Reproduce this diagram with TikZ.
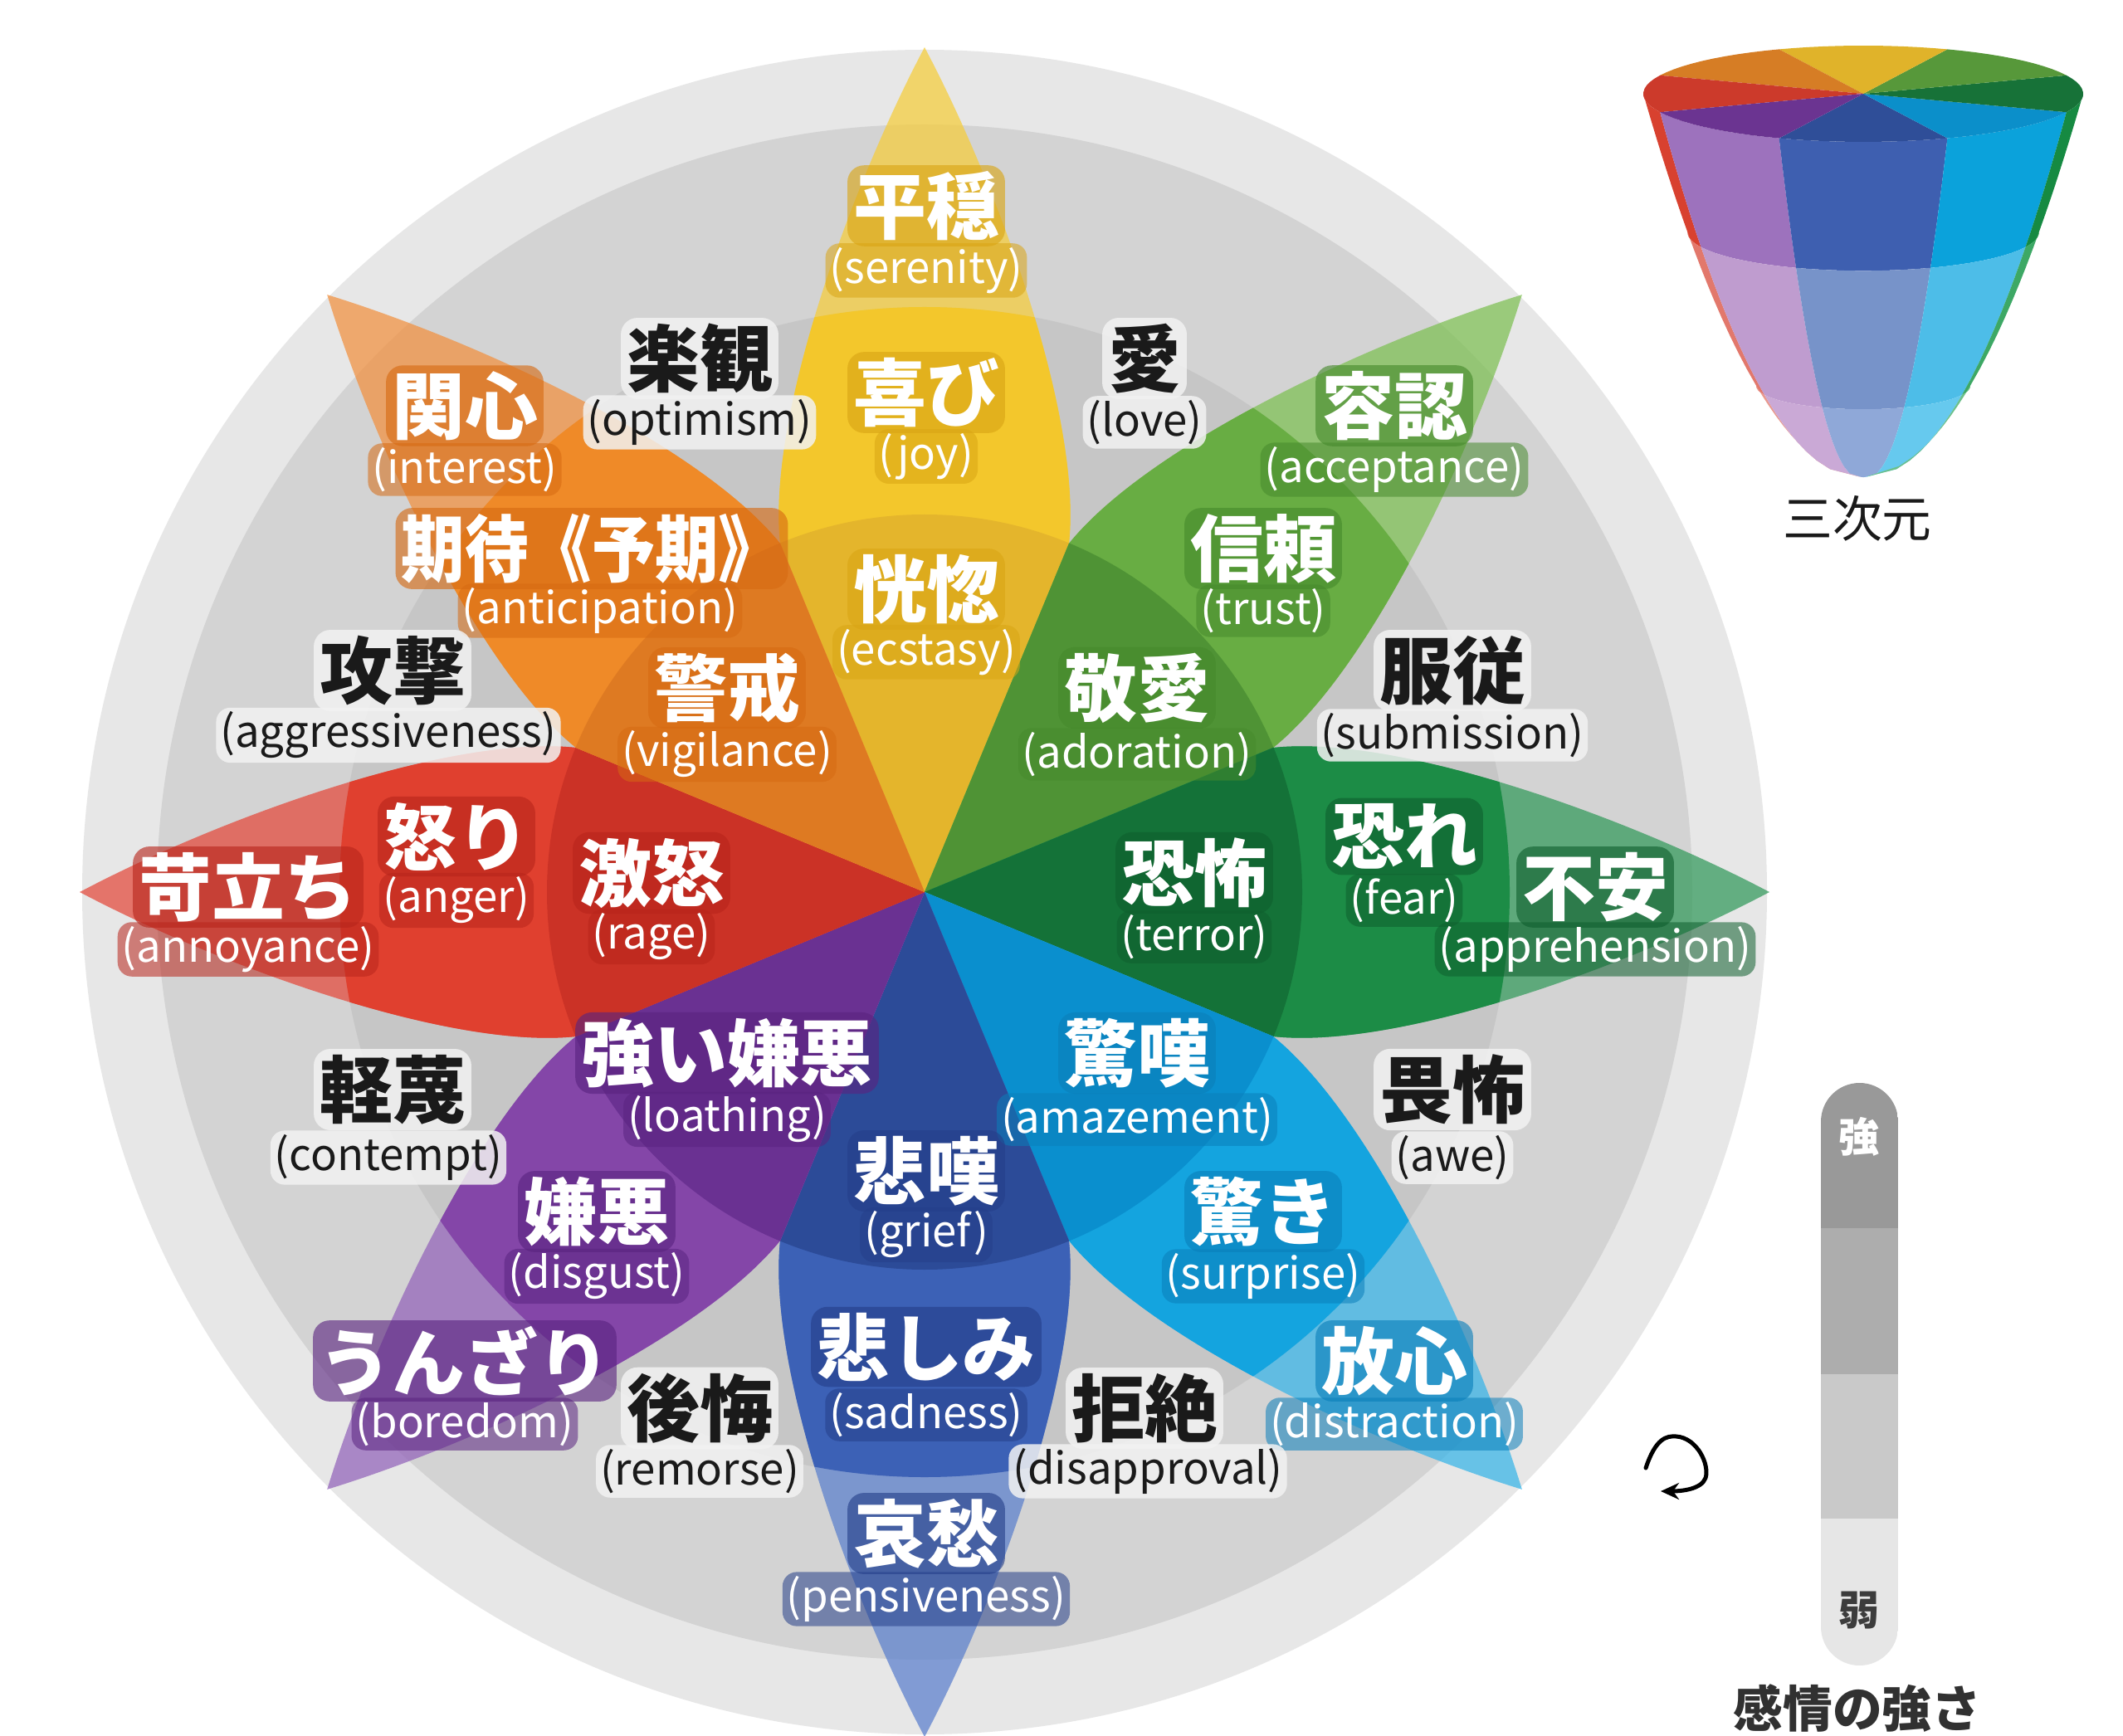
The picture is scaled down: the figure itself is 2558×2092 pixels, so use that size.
\documentclass[tikz,border=0pt]{standalone}
\usepackage{fontspec}
\setmainfont{Noto Sans CJK JP}
\usetikzlibrary{arrows.meta}
\definecolor{ringA}{HTML}{E7E7E7}
\definecolor{ringB}{HTML}{D3D3D3}
\definecolor{ringC}{HTML}{C6C6C6}
\definecolor{yI}{HTML}{E4B52C}\definecolor{yM}{HTML}{F3C72C}\definecolor{yO}{HTML}{F6CD3A}
\definecolor{oI}{HTML}{DE7A22}\definecolor{oM}{HTML}{EF8A28}\definecolor{oO}{HTML}{F2903E}
\definecolor{rI}{HTML}{CB3226}\definecolor{rM}{HTML}{E0402F}\definecolor{rO}{HTML}{E4483A}
\definecolor{pI}{HTML}{6A3192}\definecolor{pM}{HTML}{8446A8}\definecolor{pO}{HTML}{9262BA}
\definecolor{bI}{HTML}{2C4B98}\definecolor{bM}{HTML}{3C61B6}\definecolor{bO}{HTML}{5A7FCD}
\definecolor{cI}{HTML}{0A8FCE}\definecolor{cM}{HTML}{14A4DF}\definecolor{cO}{HTML}{36B4E8}
\definecolor{gI}{HTML}{147238}\definecolor{gM}{HTML}{1C8C46}\definecolor{gO}{HTML}{31995A}
\definecolor{lI}{HTML}{4F9335}\definecolor{lM}{HTML}{68AD43}\definecolor{lO}{HTML}{7DC052}
\definecolor{hY}{HTML}{D9A514}\definecolor{hO}{HTML}{D66A12}\definecolor{hR}{HTML}{B8251B}
\definecolor{hP}{HTML}{5A2480}\definecolor{hB}{HTML}{253F8A}\definecolor{hC}{HTML}{0A7FBA}
\definecolor{hG}{HTML}{0F5F2E}\definecolor{hL}{HTML}{468A2C}
\definecolor{haloW}{HTML}{F2F2F2}
\definecolor{txtdark}{HTML}{1A1A1A}
% cone colours
\definecolor{kYe}{HTML}{E0B32A}\definecolor{kOr}{HTML}{D67D25}\definecolor{kRe}{HTML}{CC3A2B}
\definecolor{kPu}{HTML}{6B3491}\definecolor{kBl}{HTML}{2F4E98}\definecolor{kCy}{HTML}{0B8FCA}
\definecolor{kDg}{HTML}{177238}\definecolor{kLg}{HTML}{57983A}
\definecolor{t1R}{HTML}{D8412F}\definecolor{t1P}{HTML}{9D72BD}\definecolor{t1B}{HTML}{3E5FB0}\definecolor{t1C}{HTML}{0BA2DB}\definecolor{t1G}{HTML}{168A42}
\definecolor{t2R}{HTML}{E2786C}\definecolor{t2P}{HTML}{BF9CCF}\definecolor{t2B}{HTML}{7793C9}\definecolor{t2C}{HTML}{4DBDE8}\definecolor{t2G}{HTML}{3DA865}
\definecolor{t3R}{HTML}{E99A90}\definecolor{t3P}{HTML}{CAA9D6}\definecolor{t3B}{HTML}{8FA8D8}\definecolor{t3C}{HTML}{66C9EE}\definecolor{t3G}{HTML}{6CC08A}
\definecolor{barA}{HTML}{999999}\definecolor{barB}{HTML}{ADADAD}\definecolor{barC}{HTML}{C9C9C9}\definecolor{barD}{HTML}{E6E6E6}

\def\conX{2245}\def\conY{113}\def\conA{265}\def\conB{58}\def\conH{461}
\newcommand\conepatch[5]{%
  \fill[#5] plot[domain=#3:#4, samples=10, variable=\vs]
      ({\conX+\conA*sqrt(1-\vs/\conH)*cos(#1)}, {\conY+\vs+\conB*sqrt(1-\vs/\conH)*sin(#1)})
   -- plot[domain=#1:#2, samples=10, variable=\vt]
      ({\conX+\conA*sqrt(1-#4/\conH)*cos(\vt)}, {\conY+#4+\conB*sqrt(1-#4/\conH)*sin(\vt)})
   -- plot[domain=#4:#3, samples=10, variable=\vs]
      ({\conX+\conA*sqrt(1-\vs/\conH)*cos(#2)}, {\conY+\vs+\conB*sqrt(1-\vs/\conH)*sin(#2)})
   -- plot[domain=#2:#1, samples=10, variable=\vt]
      ({\conX+\conA*sqrt(1-#3/\conH)*cos(\vt)}, {\conY+#3+\conB*sqrt(1-#3/\conH)*sin(\vt)})
   -- cycle;}
\newcommand\conetop[3]{%
  \fill[#3] (\conX,\conY) -- plot[domain=#1:#2, samples=12, variable=\vt]
      ({\conX+\conA*cos(\vt)}, {\conY+\conB*sin(\vt)}) -- cycle;}

\begin{document}
\begin{tikzpicture}[x=0.01cm,y=-0.01cm,
  jp/.style={font=\fontsize{25}{27}\selectfont\bfseries, inner sep=0.07cm, rounded corners=0.2cm, fill opacity=0.62, text opacity=1},
  en/.style={font=\fontsize{15}{17}\selectfont, inner sep=0.05cm, rounded corners=0.17cm, fill opacity=0.55, text opacity=1},
  pl/.style={text=white},
  gl/.style={text=txtdark, fill=haloW, fill opacity=0.85},
  petalshape/.style={insert path={(0,0) -- (420,174) .. controls (571,190) and (848,90) .. (1018,0) .. controls (848,-90) and (571,-190) .. (420,-174) -- cycle}}
]
\useasboundingbox (0,0) rectangle (2558,2092);
\fill[white] (0,0) rectangle (2558,2092);
\coordinate (C) at (1114,1075);

% grey rings
\fill[ringA] (C) circle (1015);
\fill[ringB] (C) circle (925);
\fill[ringC] (C) circle (705);

% petals
\foreach \ang/\ci/\cm/\co in {90/yI/yM/yO,45/lI/lM/lO,0/gI/gM/gO,-45/cI/cM/cO,-90/bI/bM/bO,-135/pI/pM/pO,180/rI/rM/rO,135/oI/oM/oO}{
  \begin{scope}[shift={(C)}, rotate=\ang]
    \fill[\co, fill opacity=0.72][petalshape];
    \begin{scope}
      \clip (0,0) circle (705);
      \fill[\cm][petalshape];
    \end{scope}
    \begin{scope}
      \clip (0,0) circle (455);
      \fill[\ci][petalshape];
    \end{scope}
  \end{scope}
}

% petal labels
\node[jp,pl,fill=hY] (serJ) at (1116,248) {平穏};
\node[en,pl,fill=hY] (serE) at (1116,326) {(serenity)};
\node[jp,pl,fill=hY] (joyJ) at (1116,473) {喜び};
\node[en,pl,fill=hY] (joyE) at (1116,550) {(joy)};
\node[jp,pl,fill=hY] (ecsJ) at (1116,710) {恍惚};
\node[en,pl,fill=hY] (ecsE) at (1116,786) {(ecstasy)};

\node[jp,pl,fill=hO] (intJ) at (560,489) {関心};
\node[en,pl,fill=hO] (intE) at (560,566) {(interest)};
\node[jp,pl,fill=hO] (antJ) at (713,661) {\scalebox{0.87}[1]{期待《予期》}};
\node[en,pl,fill=hO] (antE) at (723,736) {(anticipation)};
\node[jp,pl,fill=hO] (vigJ) at (876,829) {警戒};
\node[en,pl,fill=hO] (vigE) at (876,909) {(vigilance)};

\node[jp,pl,fill=hL] (accJ) at (1680,489) {容認};
\node[en,pl,fill=hL] (accE) at (1680,566) {(acceptance)};
\node[jp,pl,fill=hL] (truJ) at (1522,661) {信頼};
\node[en,pl,fill=hL] (truE) at (1522,736) {(trust)};
\node[jp,pl,fill=hL] (adoJ) at (1370,829) {敬愛};
\node[en,pl,fill=hL] (adoE) at (1370,909) {(adoration)};

\node[jp,pl,fill=hR] (annJ) at (299,1069) {苛立ち};
\node[en,pl,fill=hR] (annE) at (299,1144) {(annoyance)};
\node[jp,pl,fill=hR] (angJ) at (550,1008) {怒り};
\node[en,pl,fill=hR] (angE) at (550,1085) {(anger)};
\node[jp,pl,fill=hR] (ragJ) at (785,1052) {激怒};
\node[en,pl,fill=hR] (ragE) at (785,1129) {(rage)};

\node[jp,pl,fill=hG] (terJ) at (1439,1052) {恐怖};
\node[en,pl,fill=hG] (terE) at (1439,1129) {(terror)};
\node[jp,pl,fill=hG] (feaJ) at (1692,1008) {恐れ};
\node[en,pl,fill=hG] (feaE) at (1692,1085) {(fear)};
\node[jp,pl,fill=hG] (appJ) at (1922,1069) {不安};
\node[en,pl,fill=hG] (appE) at (1922,1144) {(apprehension)};

\node[jp,pl,fill=hP] (loaJ) at (876,1269) {強い嫌悪};
\node[en,pl,fill=hP] (loaE) at (876,1349) {(loathing)};
\node[jp,pl,fill=hP] (disJ) at (719,1460) {嫌悪};
\node[en,pl,fill=hP] (disE) at (719,1538) {(disgust)};
\node[jp,pl,fill=hP] (borJ) at (560,1640) {うんざり};
\node[en,pl,fill=hP] (borE) at (560,1716) {(boredom)};

\node[jp,pl,fill=hC] (amaJ) at (1370,1269) {驚嘆};
\node[en,pl,fill=hC] (amaE) at (1370,1349) {(amazement)};
\node[jp,pl,fill=hC] (surJ) at (1522,1460) {驚き};
\node[en,pl,fill=hC] (surE) at (1522,1538) {(surprise)};
\node[jp,pl,fill=hC] (dstJ) at (1680,1640) {放心};
\node[en,pl,fill=hC] (dstE) at (1680,1716) {(distraction)};

\node[jp,pl,fill=hB] (griJ) at (1116,1411) {悲嘆};
\node[en,pl,fill=hB] (griE) at (1116,1488) {(grief)};
\node[jp,pl,fill=hB] (sadJ) at (1116,1623) {悲しみ};
\node[en,pl,fill=hB] (sadE) at (1116,1705) {(sadness)};
\node[jp,pl,fill=hB] (penJ) at (1116,1848) {哀愁};
\node[en,pl,fill=hB] (penE) at (1116,1927) {(pensiveness)};

% dyad labels (grey gaps)
\node[jp,gl] (optJ) at (843,432) {楽観};
\node[en,gl] (optE) at (843,509) {(optimism)};
\node[jp,gl] (lovJ) at (1379,432) {愛};
\node[en,gl] (lovE) at (1379,509) {(love)};
\node[jp,gl] (aggJ) at (473,808) {攻撃};
\node[en,gl] (aggE) at (468,886) {(aggressiveness)};
\node[jp,gl] (subJ) at (1750,808) {服従};
\node[en,gl] (subE) at (1750,886) {(submission)};
\node[jp,gl] (conJ) at (473,1313) {軽蔑};
\node[en,gl] (conE) at (468,1395) {(contempt)};
\node[jp,gl] (aweJ) at (1750,1313) {畏怖};
\node[en,gl] (aweE) at (1750,1395) {(awe)};
\node[jp,gl] (remJ) at (843,1697) {後悔};
\node[en,gl] (remE) at (843,1773) {(remorse)};
\node[jp,gl] (dapJ) at (1379,1697) {拒絶};
\node[en,gl] (dapE) at (1383,1773) {(disapproval)};

% 3D cone
\conepatch{157.5}{180}{0}{167}{t1R}
\conepatch{112.5}{157.5}{0}{167}{t1P}
\conepatch{67.5}{112.5}{0}{167}{t1B}
\conepatch{22.5}{67.5}{0}{167}{t1C}
\conepatch{0}{22.5}{0}{167}{t1G}
\conepatch{157.5}{180}{167}{352}{t2R}
\conepatch{112.5}{157.5}{167}{352}{t2P}
\conepatch{67.5}{112.5}{167}{352}{t2B}
\conepatch{22.5}{67.5}{167}{352}{t2C}
\conepatch{0}{22.5}{167}{352}{t2G}
\conepatch{157.5}{180}{352}{460.8}{t3R}
\conepatch{112.5}{157.5}{352}{460.8}{t3P}
\conepatch{67.5}{112.5}{352}{460.8}{t3B}
\conepatch{22.5}{67.5}{352}{460.8}{t3C}
\conepatch{0}{22.5}{352}{460.8}{t3G}
\conetop{67.5}{112.5}{kBl}
\conetop{22.5}{67.5}{kCy}
\conetop{-22.5}{22.5}{kDg}
\conetop{-67.5}{-22.5}{kLg}
\conetop{-112.5}{-67.5}{kYe}
\conetop{-157.5}{-112.5}{kOr}
\conetop{157.5}{202.5}{kRe}
\conetop{112.5}{157.5}{kPu}
\node[font=\fontsize{17}{19}\selectfont, text=txtdark] (dim3) at (2238,625) {三次元};

% intensity bar
\begin{scope}
  \clip[rounded corners=0.465cm] (2194,1305) rectangle (2287,2007);
  \fill[barA] (2194,1305) rectangle (2287,1480);
  \fill[barB] (2194,1480) rectangle (2287,1656);
  \fill[barC] (2194,1656) rectangle (2287,1830);
  \fill[barD] (2194,1830) rectangle (2287,2007);
\end{scope}
\node[font=\fontsize{14}{16}\selectfont\bfseries, text=white] (strong) at (2240,1370) {強};
\node[font=\fontsize{14}{16}\selectfont\bfseries, text=txtdark!85] (weak) at (2240,1941) {弱};
\node[font=\fontsize{17}{19}\selectfont\bfseries, text=txtdark!90] (intens) at (2238,2059) {感情の強さ};

% small circular arrow
\coordinate (arrS) at (1983,1769);
\coordinate (arrE) at (2001,1797);
\draw[line width=0.05cm, line cap=round, -{Stealth[length=0.22cm,width=0.2cm]}]
  (arrS) .. controls (1995,1733) and (2008,1730) .. (2020,1731)
  .. controls (2045,1733) and (2060,1765) .. (2055,1781)
  .. controls (2050,1795) and (2025,1797) .. (arrE);
\end{tikzpicture}
\end{document}
